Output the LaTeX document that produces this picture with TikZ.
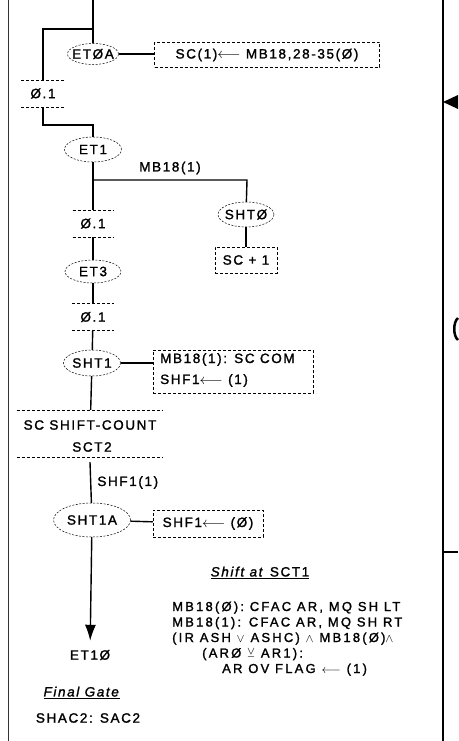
\documentclass[tikz,border=0pt]{standalone}
\usepackage{amssymb}
\usepackage{fontspec}
\setmainfont[LetterSpace=12, FakeBold=1.5]{Liberation Sans}
\usetikzlibrary{arrows.meta,shapes.geometric}
\begin{document}
\begin{tikzpicture}[x=1pt,y=-1pt,
  every node/.style={font=\fontsize{13.5}{15}\selectfont, inner sep=0pt},
  notetext/.style={anchor=base west, font=\fontsize{13}{15}\selectfont\addfontfeatures{LetterSpace=17}},
  wire/.style={line width=1.4pt},
  ovline/.style={dash pattern=on 2pt off 1.5pt, line width=0.5pt},
  oval/.style 2 args={minimum width=#1, minimum height=#2,
    append after command={\pgfextra{\draw[ovline] (\tikzlastnode.center) ellipse [x radius={#1/2*1pt}, y radius={#2/2*1pt}];}}},
  dbox/.style={draw, dash pattern=on 3pt off 2pt, line width=0.5pt, minimum width=#1, minimum height=26, inner sep=4pt},
  sepbox/.style={minimum width=#1, minimum height=27,
    append after command={(\tikzlastnode.north west) edge[dash pattern=on 3pt off 2pt, line width=0.5pt] (\tikzlastnode.north east)
                          (\tikzlastnode.south west) edge[dash pattern=on 3pt off 2pt, line width=0.5pt] (\tikzlastnode.south east)}}
]
\useasboundingbox (0,0) rectangle (458,741);
% frame
\draw[line width=1pt, black!80] (8,0) -- (8,741);
\draw[line width=2pt] (443,0) -- (443,741);
\fill (443,102) -- (458,95) -- (458,109) -- cycle;
\draw[line width=2.5pt] (458,318) .. controls (453,322) and (453,336) .. (458,340);
\draw[wire] (443,552) -- (458,552);

% nodes
\coordinate (top) at (93,0);
\coordinate (j0) at (93,29);
\coordinate (j0l) at (43,29);
\node[oval={51}{21}] (e0a) at (93,54) {ETØA};
\node[dbox=225, minimum height=25] (b1) at (267,55) {SC(1)$\longleftarrow$ MB18,28-35(Ø)};
\node[sepbox=43] (p1) at (43,93.5) {Ø.1};
\coordinate (j1l) at (43,125);
\coordinate (j1r) at (93,125);
\node[oval={57}{25}] (et1) at (93,149.5) {ET1};
\coordinate (j2) at (93,180);
\coordinate (j2r) at (247,180);
\node (mb) at (170,168) {MB18(1)};
\node[oval={56}{25}] (sht0) at (246,214.5) {SHTØ};
\node[dbox=62] (sc1) at (246,260) {SC + 1};
\node[sepbox=40] (p2) at (93,223.5) {Ø.1};
\node[oval={56}{23}] (et3) at (93,271.5) {ET3};
\node[sepbox=41] (p3) at (93,317) {Ø.1};
\node[oval={57}{26}] (sht1) at (92,363) {SHT1};
\node[dbox=160, minimum height=43, inner sep=0pt] (b2) at (233,371.5) {};
\node[anchor=base west] (b2a) at (160,363) {MB18(1): SC COM};
\node[anchor=base west] (b2b) at (160,384) {SHF1$\longleftarrow$ (1)};
\node[sepbox=146, minimum height=47] (blk) at (90,433.5) {};
\node (blka) at (90,425) {SC SHIFT-COUNT};
\node (blkb) at (92,447) {SCT2};
\node[oval={77}{34}] (sht1a) at (92,520) {SHT1A};
\node[dbox=110, minimum height=27] (b3) at (208,523.5) {SHF1$\longleftarrow$ (Ø)};
\node (et10) at (90,655) {ET1Ø};

% connectors
\draw[wire] (top) -- (e0a);
\draw[wire] (e0a) -- (b1.west |- e0a);
\draw[wire] (j0) -- (j0l) -- (p1);
\draw[wire] (p1) -- (j1l) -- (j1r) -- (et1);
\draw[wire] (et1) -- (p2);
\draw[wire] (j2) -- (j2r) -- (sht0);
\draw[wire] (sht0) -- (sc1);
\draw[wire] (p2) -- (et3);
\draw[wire] (et3) -- (p3);
\draw[wire] (p3) -- (sht1);
\draw[wire] (sht1) -- (b2.west |- sht1);
\draw[wire] (sht1) -- (blk);
\draw[wire] ([yshift=-5pt]blk.south) -- node[anchor=west, xshift=6pt] (lab) {SHF1(1)} (sht1a);
\draw[wire] (sht1a) -- (b3);
\draw[wire, -{Latex[length=16pt,width=11pt]}, shorten >=9pt] (sht1a) -- (et10);

% notes
\node (shiftt) at (260,573) {\underline{\textit{Shift at} SCT1}};
\node[notetext] (l1) at (172,611) {MB18(Ø): CFAC AR, MQ SH LT};
\node[notetext] (l2) at (172,626.5) {MB18(1): CFAC AR, MQ SH RT};
\node[notetext] (l3) at (172,642) {(IR ASH $\vee$ ASHC) $\wedge$ MB18(Ø)$\wedge$};
\node[notetext] (l4) at (202,657.5) {(ARØ $\veebar$ AR1):};
\node[notetext] (l5) at (222,673) {AR OV FLAG $\longleftarrow$ (1)};
\node (fg) at (82,693) {\underline{\textit{Final Gate}}};
\node (shac) at (88,718) {SHAC2: SAC2};
\end{tikzpicture}
\end{document}
